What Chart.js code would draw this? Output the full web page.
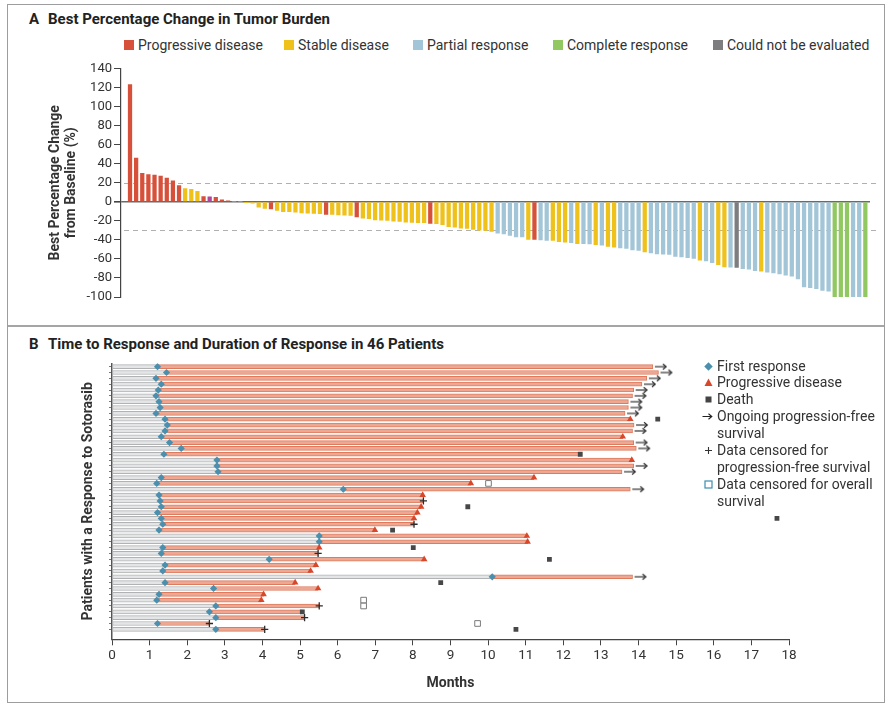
<!DOCTYPE html>
<html><head><meta charset="utf-8"><title>Sotorasib response</title>
<script src="https://cdn.jsdelivr.net/npm/chart.js@4.4.1/dist/chart.umd.min.js"></script>
<style>
html,body{margin:0;padding:0;background:#fff;}
body{width:886px;height:706px;position:relative;overflow:hidden;font-family:Roboto,'DejaVu Sans',sans-serif;color:#222;}
#frame{position:absolute;left:7px;top:4px;width:876px;height:697px;border:1px solid #9d9d9d;}
#sep{position:absolute;left:8px;top:325px;width:876px;height:2px;background:#a5a5a5;}
.ptitle{position:absolute;left:29px;font-size:15px;font-weight:700;line-height:18px;white-space:nowrap;color:#222}
.ptitle .lt{display:inline-block;width:19px}
.lgA{position:absolute;top:37px;font-size:14px;line-height:16px;white-space:nowrap;color:#333}
.lgA i{position:absolute;left:-14px;top:3px;width:10px;height:10px}
canvas{position:absolute}
#cA{left:8px;top:55px}
#cB{left:8px;top:352px}
#legB{position:absolute;left:702px;top:357.5px;font-size:14px;line-height:16.9px;color:#333}
#legB div{position:relative;padding-left:15px;white-space:nowrap;height:16.9px}
#legB svg{position:absolute;left:2px;top:4px}
</style></head>
<body>
<div id="frame"></div>
<div id="sep"></div>
<div class="ptitle" style="top:10px"><span class="lt">A</span>Best Percentage Change in Tumor Burden</div>
<div class="lgA" style="left:138px"><i style="background:#d6503a"></i>Progressive disease</div>
<div class="lgA" style="left:298px"><i style="background:#efc11b"></i>Stable disease</div>
<div class="lgA" style="left:427px"><i style="background:#a2c5d7"></i>Partial response</div>
<div class="lgA" style="left:567px"><i style="background:#92c862"></i>Complete response</div>
<div class="lgA" style="left:727px"><i style="background:#7d7d7f"></i>Could not be evaluated</div>
<canvas id="cA" width="876" height="262"></canvas>
<div class="ptitle" style="top:335px"><span class="lt">B</span>Time to Response and Duration of Response in 46 Patients</div>
<canvas id="cB" width="876" height="350"></canvas>
<div id="legB">
<div><svg width="9" height="9"><rect x="1.5" y="1.5" width="6" height="6" fill="#4b8fae" transform="rotate(45 4.5 4.5)"/></svg>First response</div>
<div><svg width="9" height="9"><polygon points="4.5,0.5 8.5,8 0.5,8" fill="#d9472b"/></svg>Progressive disease</div>
<div><svg width="9" height="9"><rect x="1.5" y="1.5" width="6" height="6" fill="#444"/></svg>Death</div>
<div><svg width="11" height="9" style="left:0"><path d="M0.5 4.5H9.5M6.5 1.8L9.8 4.5L6.5 7.2" stroke="#222" stroke-width="1.1" fill="none"/></svg>Ongoing progression-free</div>
<div>survival</div>
<div><svg width="9" height="9"><path d="M4.5 1V8M1 4.5H8" stroke="#333" stroke-width="1.1"/></svg>Data censored for</div>
<div>progression-free survival</div>
<div><svg width="9" height="9"><rect x="1" y="1" width="7" height="7" fill="#fff" stroke="#3d8db0" stroke-width="1.2"/></svg>Data censored for overall</div>
<div>survival</div>
</div>
<script>
// ---------- Panel A data ----------
const bestChange = [
 123, 46, 30, 28.5, 28, 27, 25, 22, 17, 14, 13, 11, 5.5, 5.3, 4.6, 2, 1,
 0, 0, -0.5, -1.5, -5.6, -7, -7.4, -9, -10.5, -10.5, -11, -11.6, -12, -12.3, -12.6, -13.3, -13.3, -13.7, -14, -14.4, -15.8,
 -17.2, -17.8, -19, -19.3, -19.6, -20.4, -20.7, -21.4, -21.6, -21.8, -22, -22.8, -23, -24, -26, -26.7, -27.7, -28, -29, -29.8, -30, -31,
 -33, -33.7, -35.4, -36.8, -37, -39.6, -39.6, -40, -40.7, -40.7, -42, -42.5, -43, -43.9, -44, -44.2, -45, -45.6, -47, -47.7,
 -48.4, -49, -50.5, -51.2, -52.6, -53.7, -54.7, -55, -55.4, -57.5, -57.9, -58.6, -59.6, -61.4, -62, -63.9, -66, -68.4, -68.6, -68.8,
 -70.2, -70.9, -72.3, -73, -74, -74.7, -75.8, -77.2, -78.2, -81, -89.5, -90.2, -91.2, -93, -94, -100, -100, -100, -100, -100, -100
];
const responseCode = [
 'PD','PD','PD','PD','PD','PD','PD','PD','PD','SD','SD','SD','PD','PDx','PD','PD','PD',
 'SD','SD','SD','SD','SD','SD','PD','SD','SD','SD','SD','SD','SD','SD','SD','PD','SD','SD','SD','SD','PD',
 'SD','SD','SD','SD','SD','SD','SD','SD','SD','SD','SD','PD','SD','SD','SD','SD','SD','SD','SD','SD','SD','SD',
 'PR','PR','PR','PR','PR','SD','PD','PR','PR','SD','SD','SD','PR','SD','PR','PR','SD','PR','SD','SD',
 'PR','PR','PR','PR','SD','PR','PR','PR','PR','PR','PR','PR','PR','SD','PR','PR','SD','SD','PR','NE',
 'PR','PR','PR','SD','PR','PR','PR','PR','PR','PR','PR','PR','PR','PR','PR','CR','CR','CR','PR','PR','CR'
];
const codeColors = {PD:'#d6503a', PDx:'#b2469a', SD:'#efc11b', PR:'#a2c5d7', CR:'#92c862', NE:'#7d7d7f'};
const referenceLines = [20, -30];
const yTicksA = [140,120,100,80,60,40,20,0,-20,-40,-60,-80,-100];

// ---------- Panel B data ----------
const responseRows = [1,2,3,4,5,6,7,8,9,10,11,12,13,14,15,16,17,18,19,20,21,22,23,24,25,26,27,28,29,30,31,32,33,34,35,36,37,38,39,40,41,42,43,44,45,46];
const firstResponseMonths = [1.21,1.45,1.17,1.31,1.23,1.17,1.25,1.28,1.17,1.41, 1.47,1.41,1.31,1.53,1.84,1.38,2.79,2.79,2.82,1.31, 1.19,6.15,1.25,1.28,1.31,1.21,1.31,1.35,1.25,5.51, 5.51,1.35,1.31,4.18,1.41,1.35,10.11,1.41,2.70,1.25, 1.19,2.76,2.59,2.76,1.21,2.76];
const responseEndMonths = [14.38,14.53,14.22,14.09,13.87,13.84,13.73,13.73,13.64,13.78, 13.88,13.84,13.58,13.87,13.94,12.45,13.82,13.87,13.56,11.22, 9.54,13.78,8.26,8.28,8.22,8.12,8.03,8.03,6.99,11.03, 11.05,5.51,5.48,8.30,5.42,5.28,13.84,4.87,5.48,4.03, 3.97,5.51,5.06,5.12,2.59,4.06];
const progressionRows = [10,13,17,20,21,23,25,26,27,29,30,31,32,34,35,36,38,39,40,41];
const progressionMonths = [13.78,13.58,13.82,11.22,9.54,8.26,8.22,8.12,8.03,6.99,11.03,11.05,5.51,8.30,5.42,5.28,4.87,5.48,4.03,3.97];
const ongoingRows = [1,2,3,4,5,6,7,8,9,11,12,14,15,18,19,22,37];
const ongoingMonths = [14.38,14.53,14.22,14.09,13.87,13.84,13.73,13.73,13.64,13.88,13.84,13.87,13.94,13.87,13.56,13.78,13.84];
const deathRows = [10,16,25,27,29,32,34,38,43,46];
const deathMonths = [14.51,12.45,9.46,17.68,7.46,8.01,11.63,8.74,5.06,10.74];
const pfsCensorRows = [24,28,33,42,44,45,46];
const pfsCensorMonths = [8.28,8.03,5.48,5.51,5.12,2.59,4.06];
const osCensorRows = [21,41,42,45];
const osCensorMonths = [10.01,6.69,6.69,9.72];
const monthTicks = [0,1,2,3,4,5,6,7,8,9,10,11,12,13,14,15,16,17,18];

Chart.defaults.font.family = 'Roboto, "DejaVu Sans", sans-serif';
Chart.defaults.color = '#333';

// ---------- Panel A chart ----------
const refLinePlugin = {
  id: 'refLines',
  beforeDatasetsDraw(chart) {
    const {ctx, chartArea: a, scales: {y}} = chart;
    ctx.save();
    ctx.strokeStyle = '#b0b0b0'; ctx.lineWidth = 1.2; ctx.setLineDash([5, 4]);
    referenceLines.forEach(v => {
      const py = Math.round(y.getPixelForValue(v)) + 0.5;
      ctx.beginPath(); ctx.moveTo(a.left + 3, py); ctx.lineTo(a.right + 6, py); ctx.stroke();
    });
    ctx.restore();
  }
};

new Chart(document.getElementById('cA'), {
  type: 'bar',
  data: { datasets: [{
    label: 'Best percentage change',
    data: bestChange.map((v, i) => ({x: i + 1, y: v})),
    backgroundColor: responseCode.map(c => codeColors[c]),
    barThickness: 3.6
  }]},
  options: {
    responsive: false, animation: false,
    layout: {padding: {top: 13.5, right: 14, bottom: 20, left: 0}},
    plugins: {legend: {display: false}, tooltip: {enabled: false}},
    scales: {
      x: {type: 'linear', min: -0.47, max: 121.76, offset: false, display: false},
      y: {
        min: -100, max: 140,
        afterBuildTicks: s => { s.ticks = yTicksA.map(v => ({value: v})); },
        ticks: {font: {size: 13}, color: '#333', padding: 2, autoSkip: false},
        grid: {
          color: c => c.tick && c.tick.value === 0 ? '#6a6a6a' : 'rgba(0,0,0,0)',
          lineWidth: c => c.tick && c.tick.value === 0 ? 1.6 : 1,
          tickColor: '#444', tickLength: 7, drawOnChartArea: true
        },
        border: {display: true, color: '#444', width: 1.2},
        title: {display: true, text: ['Best Percentage Change', 'from Baseline (%)'],
                font: {size: 14, weight: 'bold'}, color: '#333', padding: {top: 38.6, bottom: 0}},
        afterFit: s => { s.width = 113; }
      }
    }
  },
  plugins: [refLinePlugin]
});

// ---------- Panel B chart ----------
function makeArrow() {
  const c = document.createElement('canvas'); c.width = 34; c.height = 10;
  const g = c.getContext('2d');
  g.strokeStyle = '#222'; g.lineWidth = 1.1;
  g.beginPath(); g.moveTo(19, 5); g.lineTo(30, 5); g.stroke();
  g.beginPath(); g.moveTo(27, 2.3); g.lineTo(30.3, 5); g.lineTo(27, 7.7); g.stroke();
  return c;
}
const arrowImg = makeArrow();
const pts = (rows, months) => rows.map((r, i) => ({x: months[i], y: r}));

new Chart(document.getElementById('cB'), {
  type: 'bar',
  data: { datasets: [
    {label: 'Time to response', data: responseRows.map((r, i) => ({y: r, x: [0, firstResponseMonths[i]]})),
     backgroundColor: '#e4e5e6', borderColor: '#b0b2b4', borderWidth: 1, borderSkipped: false,
     barThickness: 4, grouped: false, order: 10},
    {label: 'Duration of response', data: responseRows.map((r, i) => ({y: r, x: [firstResponseMonths[i], responseEndMonths[i]]})),
     backgroundColor: '#eea792', borderColor: '#dc7b5e', borderWidth: 1, borderSkipped: false,
     barThickness: 4, grouped: false, order: 9},
    {type: 'scatter', label: 'First response', data: pts(responseRows, firstResponseMonths),
     pointStyle: 'rectRot', pointRadius: 3.6, backgroundColor: '#4b8fae', borderColor: '#4b8fae', borderWidth: 0, order: 2},
    {type: 'scatter', label: 'Progressive disease', data: pts(progressionRows, progressionMonths),
     pointStyle: 'triangle', pointRadius: 3.8, backgroundColor: '#d9472b', borderColor: '#d9472b', borderWidth: 0, order: 1},
    {type: 'scatter', label: 'Death', data: pts(deathRows, deathMonths),
     pointStyle: 'rect', pointRadius: 3.4, backgroundColor: '#474747', borderColor: '#474747', borderWidth: 0, order: 1},
    {type: 'scatter', label: 'Ongoing progression-free survival', data: pts(ongoingRows, ongoingMonths),
     pointStyle: arrowImg, pointRadius: 3, order: 1},
    {type: 'scatter', label: 'Data censored for progression-free survival', data: pts(pfsCensorRows, pfsCensorMonths),
     pointStyle: 'cross', pointRadius: 3.6, borderColor: '#2b2b2b', borderWidth: 1.3, backgroundColor: '#2b2b2b', order: 1},
    {type: 'scatter', label: 'Data censored for overall survival', data: pts(osCensorRows, osCensorMonths),
     pointStyle: 'rect', pointRadius: 4, backgroundColor: '#ffffff', borderColor: '#7a7a7a', borderWidth: 1, order: 1}
  ]},
  options: {
    responsive: false, animation: false, indexAxis: 'y',
    layout: {padding: {top: 11.3, right: 95, bottom: 0, left: 0}},
    plugins: {legend: {display: false}, tooltip: {enabled: false}},
    scales: {
      x: {
        type: 'linear', min: 0, max: 18, offset: false,
        afterBuildTicks: s => { s.ticks = monthTicks.map(v => ({value: v})); },
        ticks: {font: {size: 13.5}, color: '#333', padding: 2, autoSkip: false, maxRotation: 0},
        grid: {drawOnChartArea: false, tickLength: 6, tickColor: '#444'},
        border: {display: true, color: '#444', width: 1.2},
        title: {display: true, text: 'Months', font: {size: 14, weight: 'bold'}, color: '#333', padding: {top: 0, bottom: 10.6}},
        afterFit: s => { s.height = 62.7; }
      },
      y: {
        type: 'linear', reverse: true, min: 0.42, max: 47.71, offset: false,
        afterBuildTicks: s => { s.ticks = responseRows.map(v => ({value: v})); },
        ticks: {display: false, autoSkip: false},
        grid: {drawOnChartArea: false, offset: false, tickLength: 3, tickColor: '#777'},
        border: {display: true, color: '#555', width: 1.5},
        title: {display: true, text: 'Patients with a Response to Sotorasib', font: {size: 14, weight: 'bold'}, color: '#333', padding: {top: 71.6, bottom: 0}},
        afterFit: s => { s.width = 104; }
      }
    }
  }
});
</script>
</body></html>
